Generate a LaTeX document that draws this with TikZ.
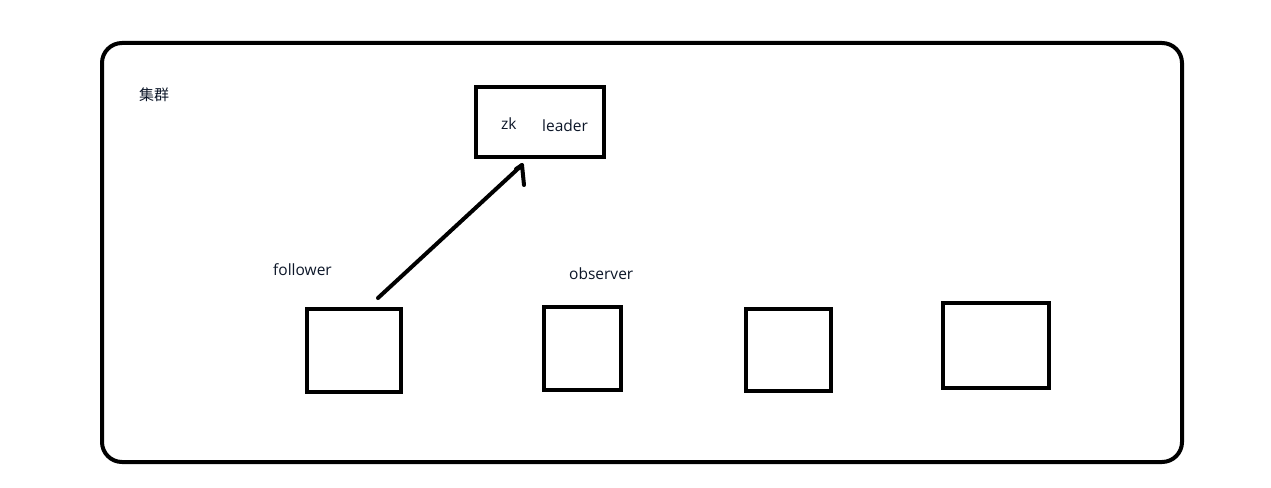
\documentclass[tikz,border=0pt]{standalone}
\usepackage{fontspec}
\usetikzlibrary{calc}
\setmainfont{Open Sans}
\newfontfamily\cjk{Noto Sans CJK SC}
\definecolor{txt}{RGB}{12,22,40}
\begin{document}
\begin{tikzpicture}[x=1pt,y=-1pt,
  box/.style={draw=black,line width=4pt},
  lbl/.style={inner sep=0pt,anchor=west,text=txt,font=\fontsize{15.5}{17}\selectfont},
  conn/.style={line width=4pt,line cap=round,line join=round}]
\useasboundingbox (0,0) rectangle (1271,487);
\draw[box,rounded corners=20pt] (102,43) rectangle (1182,462);
\node[box,inner sep=0pt,minimum width=128pt,minimum height=70pt] (leader) at (540,122) {};
\node[box,inner sep=0pt,minimum width=94pt,minimum height=83pt] (b1) at (354,350.5) {};
\node[box,inner sep=0pt,minimum width=77pt,minimum height=83pt] (b2) at (582.5,348.5) {};
\node[box,inner sep=0pt,minimum width=85pt,minimum height=82pt] (b3) at (788.5,350) {};
\node[box,inner sep=0pt,minimum width=106pt,minimum height=85pt] (b4) at (996,345.5) {};
\node[lbl,font=\fontsize{15}{17}\selectfont] (cl) at (139,95) {\cjk 集群};
\node[lbl] (zk) at (501,124) {zk};
\node[lbl] (ld) at (542,126) {leader};
\node[lbl] (fo) at (273,270) {follower};
\node[lbl] (ob) at (569,274) {observer};
\coordinate (as) at ($(b1.north)+(24,-9)$);
\coordinate (ae) at ($(leader.south)+(-18,6)$);
\coordinate (barb1) at ($(ae)+(2,20)$);
\coordinate (barb2) at ($(ae)+(-6,4)$);
\draw[conn] (as) -- (ae) -- (barb1);
\draw[conn] (ae) -- (barb2);
\end{tikzpicture}
\end{document}
